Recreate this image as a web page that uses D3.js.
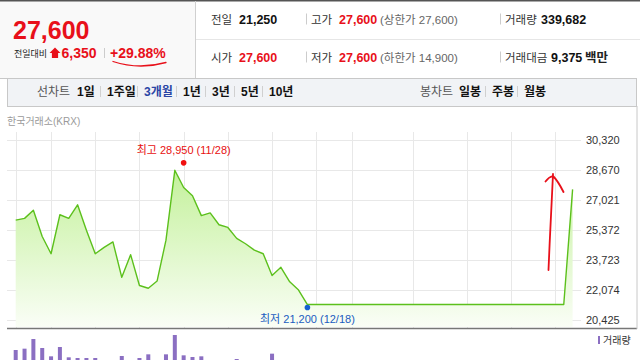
<!DOCTYPE html>
<html>
<head>
<meta charset="utf-8">
<script src="https://cdn.jsdelivr.net/npm/d3@7"></script>
<style>
  body { margin: 0; background: #fff; }
  svg { display: block; font-family: "Liberation Sans", Arial, "Noto Sans CJK KR", sans-serif; }
</style>
</head>
<body>
<svg id="chart" width="640" height="360"></svg>
<script>
// closing prices, one per trading day (halted from 12/19 until the last day)
const closes = [
  25900, 26000, 26450, 25000, 24050, 26200, 26000, 26750, 25350, 24050,
  24400, 24700, 22750, 24000, 22300, 22150, 22550, 24800, 28650, 27700,
  27250, 26150, 26300, 25650, 25500, 24900, 24600, 24250, 24050, 22850,
  23300, 22500, 22050, 21250,
  21250, 21250, 21250, 21250, 21250, 21250, 21250, 21250, 21250, 21250,
  21250, 21250, 21250, 21250, 21250, 21250, 21250, 21250, 21250, 21250,
  21250, 21250, 21250, 21250, 21250, 21250, 21250, 21250, 21250,
  27600
]

// daily volume
const volumes = [
  660000, 700000, 990000, 720000, 470000, 750000, 440000, 420000, 420000, 420000,
  300000, 280000, 480000, 320000, 420000, 530000, 300000, 530000, 1110000, 500000,
  450000, 470000, 320000, 300000, 310000, 390000, 280000, 260000, 300000, 550000,
  330000, 290000, 310000, 340000,
  0, 0, 0, 0, 0, 0, 0, 0, 0, 0,
  0, 0, 0, 0, 0, 0, 0, 0, 0, 0,
  0, 0, 0, 0, 0, 0, 0, 0, 0,
  339682
]

// y-axis tick labels and the days that get a vertical grid line
const priceTicks = [30320, 28670, 27021, 25372, 23723, 22074, 20425]
const gridDays = [0, 4, 9, 14, 19, 24, 29, 34, 38, 45, 51, 56, 61]

// high / low markers
const highMark = { day: 19, value: 28950, label: "최고 28,950 (11/28)" }
const lowMark = { day: 33, value: 21200, label: "최저 21,200 (12/18)" }

// header
const rangeTabs = ["1일", "1주일", "3개월", "1년", "3년", "5년", "10년"]
const candleTabs = ["일봉", "주봉", "월봉"]

const RED = "#e8101a"
const svg = d3.select("#chart")

// ---------- Header box ----------
svg.append("rect").attr("x", 0).attr("y", 1).attr("width", 195).attr("height", 77).attr("fill", "#f9f9f9")
svg.append("line").attr("x1", 0).attr("x2", 640).attr("y1", 0.75).attr("y2", 0.75).attr("stroke", "#555").attr("stroke-width", 1.5)
svg.append("line").attr("x1", 195.5).attr("x2", 195.5).attr("y1", 1).attr("y2", 78).attr("stroke", "#d0d0d0")
svg.append("line").attr("x1", 196).attr("x2", 640).attr("y1", 39.5).attr("y2", 39.5).attr("stroke", "#e6e6e6")

svg.append("text").attr("x", 13).attr("y", 39).attr("fill", RED)
    .attr("font-size", 25).attr("font-weight", "bold").text("27,600")
svg.append("text").attr("x", 14).attr("y", 57).attr("fill", "#222").attr("font-size", 9).text("전일대비")
svg.append("path").attr("d", "M49.5,53 L55,47.5 L60.5,53 L58.1,53 L58.1,58 L51.9,58 L51.9,53 Z").attr("fill", RED)
svg.append("text").attr("x", 61.5).attr("y", 58).attr("fill", RED)
    .attr("font-size", 14).attr("font-weight", "bold").text("6,350")
svg.append("line").attr("x1", 104.5).attr("x2", 104.5).attr("y1", 48).attr("y2", 58).attr("stroke", "#ccc")
svg.append("text").attr("x", 110).attr("y", 58).attr("fill", RED)
    .attr("font-size", 14).attr("font-weight", "bold").text("+29.88%")
// hand drawn underline
svg.append("path").attr("d", "M113,61.5 Q139,70 166,62.5").attr("fill", "none")
    .attr("stroke", RED).attr("stroke-width", 1.3).attr("stroke-linecap", "round")

// header quote rows
const quoteRows = [
  [{ x: 211, t: "전일" }, { x: 239, t: "21,250", c: "#111", b: true },
   { x: 311, t: "고가" }, { x: 339, t: "27,600", c: RED, b: true }, { x: 380, t: "(상한가 27,600)", c: "#666" },
   { x: 505, t: "거래량" }, { x: 541, t: "339,682", c: "#111", b: true }],
  [{ x: 211, t: "시가" }, { x: 239, t: "27,600", c: RED, b: true },
   { x: 311, t: "저가" }, { x: 339, t: "27,600", c: RED, b: true }, { x: 380, t: "(하한가 14,900)", c: "#666" },
   { x: 505, t: "거래대금" }, { x: 551, t: "9,375", c: "#111", b: true }, { x: 585, t: "백만", c: "#222", b: true }]
]
quoteRows.forEach((row, r) => {
    let baseY = r == 0 ? 23.5 : 61.5
    row.forEach(d => {
        svg.append("text").attr("x", d.x).attr("y", baseY)
            .attr("fill", d.c || "#333")
            .attr("font-size", d.b ? 12.5 : 11.5)
            .attr("font-weight", d.b ? "bold" : "normal")
            .text(d.t)
    })
    for (let sx of [306.5, 500.5]) {
        svg.append("line").attr("x1", sx).attr("x2", sx).attr("y1", baseY - 10).attr("y2", baseY + 1).attr("stroke", "#ccc")
    }
})

// ---------- Tab bar ----------
svg.append("line").attr("x1", 0).attr("x2", 637).attr("y1", 78.5).attr("y2", 78.5).attr("stroke", "#c8c8c8")
svg.append("rect").attr("x", 7.5).attr("y", 78.5).attr("width", 629).attr("height", 28)
    .attr("fill", "#f1f3f6").attr("stroke", "#c8c8c8")

svg.append("text").attr("x", 37).attr("y", 96).attr("fill", "#555").attr("font-size", 12).text("선차트")
let tabX = [77, 107, 144, 183, 212, 241, 269]
rangeTabs.forEach((t, i) => {
    svg.append("text").attr("x", tabX[i]).attr("y", 96)
        .attr("fill", t == "3개월" ? "#2a45a5" : "#111")
        .attr("font-size", 12).attr("font-weight", "bold").text(t)
    if (i > 0) {
        svg.append("line").attr("x1", tabX[i] - 6.5).attr("x2", tabX[i] - 6.5).attr("y1", 86).attr("y2", 97).attr("stroke", "#d0d0d0")
    }
})
svg.append("text").attr("x", 420).attr("y", 96).attr("fill", "#555").attr("font-size", 12).text("봉차트")
let candleX = [459, 492, 524]
candleTabs.forEach((t, i) => {
    svg.append("text").attr("x", candleX[i]).attr("y", 96)
        .attr("fill", "#111").attr("font-size", 12).attr("font-weight", "bold").text(t)
    if (i > 0) {
        svg.append("line").attr("x1", candleX[i] - 6.5).attr("x2", candleX[i] - 6.5).attr("y1", 86).attr("y2", 97).attr("stroke", "#d0d0d0")
    }
})

svg.append("text").attr("x", 7).attr("y", 125).attr("fill", "#9a9a9a").attr("font-size", 10).text("한국거래소(KRX)")

// ---------- Price chart ----------
let x = d3.scaleLinear().domain([0, closes.length - 1]).range([15.7, 572.6])
let y = d3.scaleLinear().domain([20425, 30320]).range([319.5, 140])
let vol = d3.scaleLinear().domain([0, 1200000]).range([372, 332])

let gridG = svg.append("g")
priceTicks.forEach(v => {
    gridG.append("line").attr("x1", 7).attr("x2", 581)
        .attr("y1", Math.round(y(v)) + 0.5).attr("y2", Math.round(y(v)) + 0.5)
        .attr("stroke", "#e8e8e8")
    svg.append("text").attr("x", 586).attr("y", y(v) + 4)
        .attr("fill", "#333").attr("font-size", 11).text(d3.format(",")(v))
})
gridDays.forEach(d => {
    gridG.append("line").attr("x1", Math.round(x(d)) + 0.5).attr("x2", Math.round(x(d)) + 0.5)
        .attr("y1", 132).attr("y2", 328).attr("stroke", "#e8e8e8")
})

// area gradient
let grad = svg.append("defs").append("linearGradient").attr("id", "areaFill")
    .attr("gradientUnits", "userSpaceOnUse").attr("x1", 0).attr("x2", 0).attr("y1", 160).attr("y2", 330)
grad.append("stop").attr("offset", 0).attr("stop-color", "#c0f095")
grad.append("stop").attr("offset", 1).attr("stop-color", "#fbfef8")

svg.append("path").datum(closes)
    .attr("d", d3.area().x((d, i) => x(i)).y0(327).y1(d => y(d)))
    .attr("fill", "url(#areaFill)")
svg.append("path").datum(closes)
    .attr("d", d3.line().x((d, i) => x(i)).y(d => y(d)))
    .attr("fill", "none").attr("stroke", "#5cc01c").attr("stroke-width", 1.4)
    .attr("stroke-linejoin", "round")

// high / low markers
svg.append("circle").attr("cx", x(highMark.day)).attr("cy", y(highMark.value) - 2).attr("r", 2.8).attr("fill", "#f01010")
svg.append("text").attr("x", x(highMark.day)).attr("y", 154).attr("text-anchor", "middle")
    .attr("fill", "#e81010").attr("font-size", 11).text(highMark.label)
svg.append("circle").attr("cx", x(lowMark.day)).attr("cy", y(lowMark.value) + 2).attr("r", 2.8).attr("fill", "#1560d0")
svg.append("text").attr("x", x(lowMark.day)).attr("y", 323).attr("text-anchor", "middle")
    .attr("fill", "#1a5cc0").attr("font-size", 11).text(lowMark.label)

// hand drawn red arrow
svg.append("path")
    .attr("d", "M548.5,270 C549.5,245 551,215 552,195 L553,174 M545.5,181.5 C548,178 551,176.5 553,176 C556,179 560,185 563.5,192")
    .attr("fill", "none").attr("stroke", RED).attr("stroke-width", 1.8).attr("stroke-linecap", "round")

// ---------- Volume ----------
svg.append("line").attr("x1", 7).attr("x2", 637).attr("y1", 328.5).attr("y2", 328.5).attr("stroke", "#777").attr("stroke-width", 1.3)
svg.append("line").attr("x1", 637).attr("x2", 637).attr("y1", 106).attr("y2", 329).attr("stroke", "#c8c8c8")

svg.append("g").selectAll("rect").data(volumes).join("rect")
    .attr("x", (d, i) => x(i) - 2)
    .attr("y", d => vol(d))
    .attr("width", 4)
    .attr("height", d => 372 - vol(d))
    .attr("fill", "#8b6fc2")

svg.append("rect").attr("x", 598).attr("y", 336).attr("width", 2).attr("height", 8).attr("fill", "#8b6fc2")
svg.append("text").attr("x", 603).attr("y", 344).attr("fill", "#333").attr("font-size", 10).text("거래량")
</script>
</body>
</html>
